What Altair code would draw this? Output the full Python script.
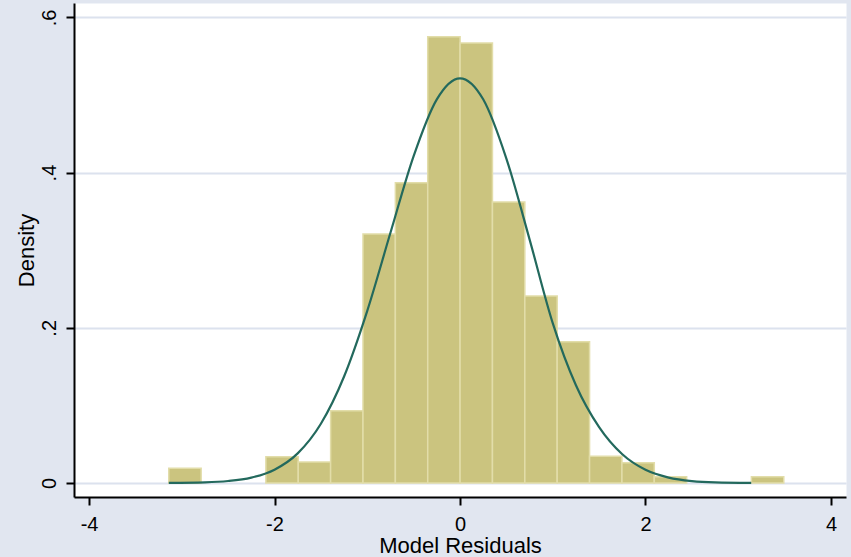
import altair as alt
import pandas as pd

# Histogram bins (left / right edges) and density heights
bin_lo = [-3.140, -2.791, -2.442, -2.093, -1.744, -1.395, -1.046, -0.697, -0.348, 0.001,
          0.350, 0.699, 1.048, 1.397, 1.746, 2.095, 2.444, 2.793, 3.142]
bin_hi = [-2.791, -2.442, -2.093, -1.744, -1.395, -1.046, -0.697, -0.348, 0.001, 0.350,
          0.699, 1.048, 1.397, 1.746, 2.095, 2.444, 2.793, 3.142, 3.491]
density = [0.019, 0.0, 0.0, 0.034, 0.027, 0.093, 0.321, 0.387, 0.575, 0.567,
           0.362, 0.241, 0.182, 0.0345, 0.026, 0.008, 0.0, 0.0, 0.008]

# Normal density overlay
curve_x = [-3.14, -2.75, -2.5, -2.25, -2.0, -1.75, -1.5, -1.25, -1.0, -0.75, -0.5, -0.25, 0.0,
           0.25, 0.5, 0.75, 1.0, 1.25, 1.5, 1.75, 2.0, 2.25, 2.5, 2.75, 3.14]
curve_y = [0.0002, 0.0009, 0.0026, 0.0070, 0.0172, 0.0382, 0.0764, 0.1373, 0.2219, 0.3224, 0.4212,
           0.4944, 0.5215, 0.4944, 0.418, 0.314, 0.206, 0.126, 0.072, 0.037, 0.017, 0.007, 0.0025,
           0.0008, 0.0002]

x_ticks = [-4, -2, 0, 2, 4]
y_ticks = [0, 0.2, 0.4, 0.6]

bars_df = pd.DataFrame({"lo": bin_lo, "hi": bin_hi, "density": density})
bars_df = bars_df[bars_df["density"] > 0].copy()
bars_df["base"] = 0.0
curve_df = pd.DataFrame({"x": curve_x, "y": curve_y})

W, H = 772, 494
FONT = "Liberation Sans"

xscale = alt.Scale(domain=[-4.162, 4.162], nice=False, zero=False)
yscale = alt.Scale(domain=[-0.018, 0.6185], nice=False, zero=False)

x_axis = alt.Axis(
    values=x_ticks, title="Model Residuals", grid=False,
    labelExpr="'' + datum.value",
    labelBaseline="alphabetic", labelPadding=25, labelFontSize=20,
    titleFontSize=22, titleBaseline="alphabetic", titleY=55, titleX=W / 2,
    titleAlign="center",
)
y_axis = alt.Axis(
    values=y_ticks, title="Density", grid=True,
    labelExpr="datum.value == 0 ? '0' : substring(format(datum.value, '.1f'), 1)",
    labelAngle=270, labelAlign="center", labelBaseline="alphabetic",
    labelPadding=11, labelFontSize=20,
    titleFontSize=22, titleAngle=270, titleAlign="center", titleBaseline="alphabetic",
    titleX=-41, titleY=H / 2,
)

bars = alt.Chart(bars_df).mark_rect(
    fill="#CBC47F", stroke="#E2DDA9", strokeWidth=1.5
).encode(
    x=alt.X("lo:Q", scale=xscale, axis=x_axis),
    x2="hi:Q",
    y=alt.Y("density:Q", scale=yscale, axis=y_axis),
    y2="base:Q",
)

line = alt.Chart(curve_df).mark_line(
    color="#23695D", strokeWidth=2.2, interpolate="monotone"
).encode(
    x=alt.X("x:Q", scale=xscale, axis=x_axis),
    y=alt.Y("y:Q", scale=yscale, axis=y_axis),
)

chart = alt.layer(bars, line).properties(
    width=W, height=H,
    autosize=alt.AutoSizeParams(type="none"),
    padding={"left": 74, "top": 3, "right": 5, "bottom": 60},
    background="#E1E6F0",
).configure_view(
    fill="white", stroke="transparent"
).configure_axis(
    domainColor="black", domainWidth=2,
    tickColor="black", tickWidth=2, tickSize=8,
    gridColor="#DCE2EE", gridWidth=2,
    labelFont=FONT, labelColor="black",
    titleFont=FONT, titleColor="black", titleFontWeight="normal",
)

chart.save("out.html", embed_options={"renderer": "svg", "actions": False})
